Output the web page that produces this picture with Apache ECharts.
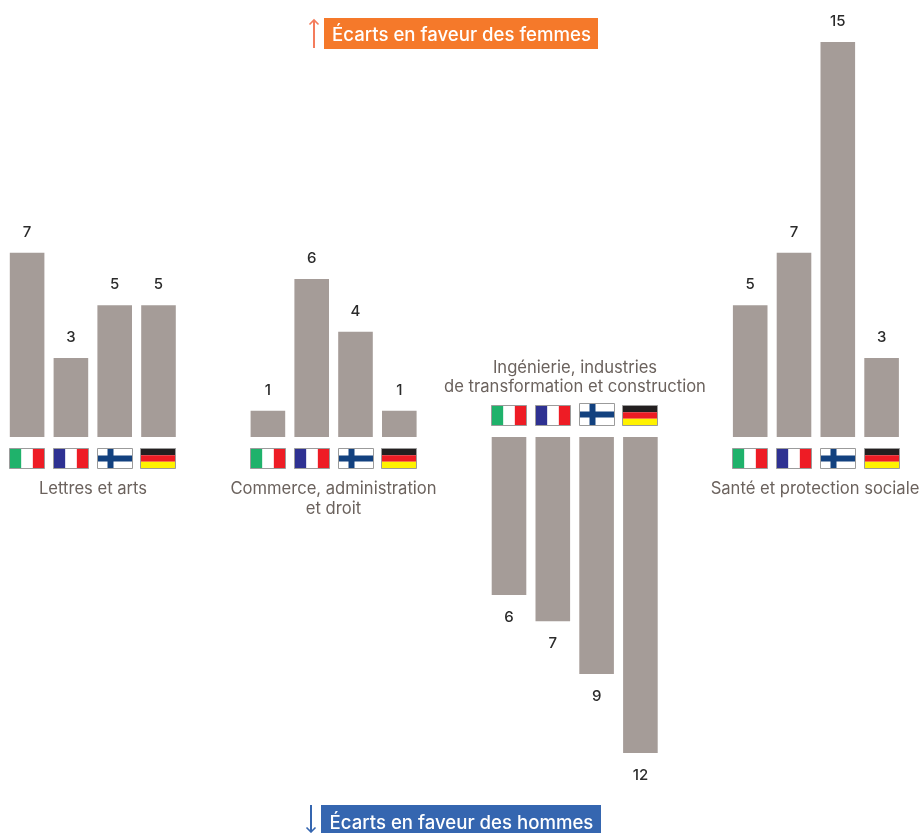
<!DOCTYPE html>
<html><head><meta charset="utf-8">
<style>html,body{margin:0;padding:0;background:#fff}#c{width:922px;height:833px}</style>
<script src="https://cdn.jsdelivr.net/npm/echarts@6/dist/echarts.min.js"></script>
</head><body><div id="c"></div>
<script>
const countries = ['Italie', 'France', 'Finlande', 'Allemagne'];
const lettresArts = [7, 3, 5, 5];
const commerceDroit = [1, 6, 4, 1];
const ingenierie = [-6, -7, -9, -12];
const santeSociale = [5, 7, 15, 3];
const groupValues = [lettresArts, commerceDroit, ingenierie, santeSociale];
const groupLefts = [5.2, 246, 487.1, 728.3];
const FONT = 'Inter';

const chart = echarts.init(document.getElementById('c'), null, {renderer: 'canvas'});

function flagShapes(name, x, y, w, h) {
  const r = (X, Y, W, H, fill) => ({type: 'rect', shape: {x: X, y: Y, width: W, height: H}, style: {fill}});
  const border = {type: 'rect', shape: {x: x, y: y, width: w, height: h}, style: {fill: 'none', stroke: '#9b9b9b', lineWidth: 1}};
  if (name === 'Italie') return [r(x, y, w, h, '#fff'), r(x, y, w / 3, h, '#1fb26b'), r(x + 2 * w / 3, y, w / 3, h, '#ee1c25'), border];
  if (name === 'France') return [r(x, y, w, h, '#fff'), r(x, y, w / 3, h, '#2e3192'), r(x + 2 * w / 3, y, w / 3, h, '#ee1c25'), border];
  if (name === 'Finlande') return [r(x, y, w, h, '#fff'), r(x + 10, y, 6, h, '#12417f'), r(x, y + h / 2 - 3, w, 6, '#12417f'), border];
  return [r(x, y, w, h / 3, '#231f20'), r(x, y + h / 3, w, h / 3, '#ed1c24'), r(x, y + 2 * h / 3, w, h / 3, '#fff200'), border];
}

const grids = [], xAxes = [], yAxes = [], series = [];
groupValues.forEach((vals, g) => {
  const down = vals[0] < 0;
  grids.push({left: groupLefts[g], width: 175.2, top: 42, height: 711});
  xAxes.push({gridIndex: g, type: 'category', data: countries, show: false});
  yAxes.push({gridIndex: g, type: 'value', min: -12, max: 15, show: false});
  series.push({
    type: 'bar', xAxisIndex: g, yAxisIndex: g, data: vals, barWidth: 34.6,
    itemStyle: {color: '#a59c98'}, silent: true, animation: false,
    label: {
      show: true, distance: down ? 15 : 13, color: '#2b2b2b', fontFamily: FONT, fontSize: 15, fontWeight: 500,
      position: down ? 'bottom' : 'top',
      formatter: p => String(Math.abs(p.value))
    }
  });
  series.push({
    type: 'custom', xAxisIndex: g, yAxisIndex: g, silent: true, animation: false, clip: false,
    data: countries.map((c, i) => [i, 0]),
    encode: {x: 0, y: 1},
    renderItem: (params, api) => {
      const p = api.coord([api.value(0), 0]);
      const name = countries[params.dataIndex];
      const x = Math.floor(p[0] - 17.5) + 0.5;
      const y = Math.round(down ? p[1] - 32.5 : p[1] + 10.5) + 0.5;
      const tall = down && name === 'Finlande' ? 2 : 0;
      return {type: 'group', children: flagShapes(name, x, y - tall, 35, 20 + tall)};
    }
  });
});

const catStyle = {fill: '#6b625d', fontFamily: FONT, fontSize: 16.6, textAlign: 'center', lineHeight: 19.5};
function catLabel(x, y, text) {
  return {type: 'text', x: x, y: y, silent: true, style: Object.assign({text: text}, catStyle)};
}
const tagStyle = {fill: '#fff', fontFamily: FONT, fontSize: 18.6, fontWeight: 500, textAlign: 'center', textVerticalAlign: 'middle'};

chart.setOption({
  animation: false,
  grid: grids, xAxis: xAxes, yAxis: yAxes, series: series,
  graphic: [
    catLabel(93, 479.5, 'Lettres et arts'),
    catLabel(333.5, 479.5, 'Commerce, administration\net droit'),
    catLabel(575, 358, 'Ingénierie, industries\nde transformation et construction'),
    catLabel(815, 479.5, 'Santé et protection sociale'),
    {type: 'rect', shape: {x: 324, y: 18, width: 274, height: 31}, style: {fill: '#f5792a'}},
    {type: 'text', x: 461.5, y: 35, style: Object.assign({text: 'Écarts en faveur des femmes'}, tagStyle)},
    {type: 'rect', shape: {x: 321, y: 805, width: 280, height: 28}, style: {fill: '#3566b0'}},
    {type: 'text', x: 461.5, y: 823, style: Object.assign({text: 'Écarts en faveur des hommes'}, tagStyle)},
    {type: 'polyline', shape: {points: [[314, 48], [314, 20]]}, style: {stroke: '#f47c5c', lineWidth: 2, fill: 'none'}},
    {type: 'polyline', shape: {points: [[309.5, 24.5], [314, 20], [318.5, 24.5]]}, style: {stroke: '#f47c5c', lineWidth: 1.6, fill: 'none'}},
    {type: 'polyline', shape: {points: [[311, 805], [311, 832]]}, style: {stroke: '#3566b0', lineWidth: 2, fill: 'none'}},
    {type: 'polyline', shape: {points: [[306.5, 827.5], [311, 832], [315.5, 827.5]]}, style: {stroke: '#3566b0', lineWidth: 1.6, fill: 'none'}}
  ]
});
</script></body></html>
